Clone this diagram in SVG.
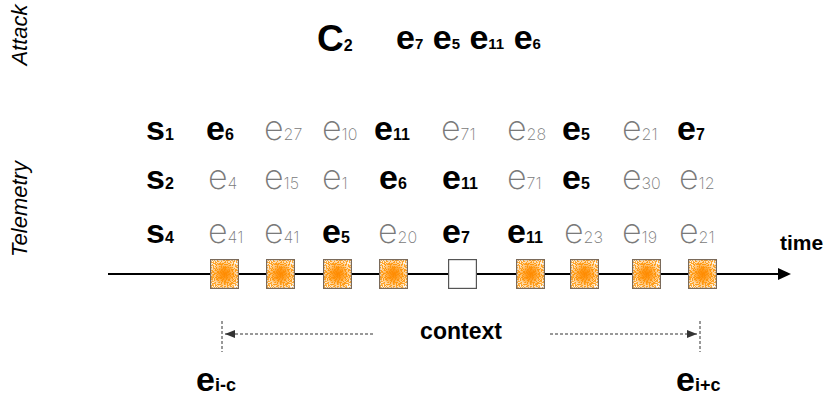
<svg xmlns="http://www.w3.org/2000/svg" xmlns:xlink="http://www.w3.org/1999/xlink" width="830" height="405" viewBox="0 0 830 405">
<style>
.b{font-family:"Liberation Sans",Arial,sans-serif;font-weight:bold;fill:#000}
.l{font-family:"Inter","Liberation Sans",sans-serif;font-weight:200;fill:#7a7a7a}
.e{font-size:34px}
.s{font-size:16px}
.lab{font-family:"Liberation Sans",Arial,sans-serif;font-style:italic;font-size:22px;fill:#000}
.line{stroke:#000;stroke-width:2.2;fill:none}
.dash{stroke:#333;stroke-width:1;stroke-dasharray:3 2;fill:none}
</style>
<defs>
<radialGradient id="rg" cx="0.5" cy="0.5" r="0.6">
<stop offset="0" stop-color="#ff8a00"/>
<stop offset="0.55" stop-color="#ff9810"/>
<stop offset="1" stop-color="#ffae3c"/>
</radialGradient>
<radialGradient id="mg" cx="0.5" cy="0.5" r="0.6">
<stop offset="0" stop-color="#000"/>
<stop offset="0.3" stop-color="#222"/>
<stop offset="1" stop-color="#fff"/>
</radialGradient>
<mask id="m" maskContentUnits="objectBoundingBox"><rect width="1" height="1" fill="url(#mg)"/></mask>
<filter id="sp" x="0" y="0" width="1" height="1">
<feTurbulence type="fractalNoise" baseFrequency="0.9" numOctaves="2" seed="4" result="n"/>
<feColorMatrix in="n" type="matrix" values="0 0 0 0 1 0 0 0 0 1 0 0 0 0 1 14 0 0 0 -6.5" result="t"/>
<feComposite in="t" in2="SourceGraphic" operator="in"/>
</filter>
<g id="ob">
<rect x="0" y="0" width="29" height="30" fill="url(#rg)"/>
<rect x="0" y="0" width="29" height="30" fill="#fff" filter="url(#sp)" mask="url(#m)"/>
<rect x="0.6" y="0.6" width="27.8" height="28.8" fill="none" stroke="#7a6a5a" stroke-width="1.2"/>
</g>
<marker id="ah" viewBox="0 0 10 10" refX="10" refY="5" markerWidth="10" markerHeight="10" markerUnits="userSpaceOnUse" orient="auto">
<path d="M0,1 L10,5 L0,9 z" fill="#333"/>
</marker>
</defs>

<g id="labels">
<text class="lab" transform="translate(27,35) rotate(-90)" text-anchor="middle">Attack</text>
<text class="lab" transform="translate(27,209) rotate(-90)" text-anchor="middle">Telemetry</text>
</g>

<g id="attack">
<text class="b" x="317" y="51" style="font-size:37px">C<tspan class="s">2</tspan></text>
<text class="b" x="396" y="49" style="font-size:34px">e<tspan style="font-size:15px">7</tspan> e<tspan style="font-size:15px">5</tspan> e<tspan style="font-size:15px">11</tspan> e<tspan style="font-size:15px">6</tspan></text>
</g>

<g id="row-s1">
<text class="b e" x="146" y="140">s<tspan class="s">1</tspan></text>
<text class="b e" x="206" y="140">e<tspan class="s">6</tspan></text>
<text class="l e" x="264" y="140">e<tspan class="s">27</tspan></text>
<text class="l e" x="322" y="140">e<tspan class="s">10</tspan></text>
<text class="b e" x="374" y="140">e<tspan class="s">11</tspan></text>
<text class="l e" x="441" y="140">e<tspan class="s">71</tspan></text>
<text class="l e" x="507" y="140">e<tspan class="s">28</tspan></text>
<text class="b e" x="562" y="140">e<tspan class="s">5</tspan></text>
<text class="l e" x="622" y="140">e<tspan class="s">21</tspan></text>
<text class="b e" x="677" y="140">e<tspan class="s">7</tspan></text>
</g>

<g id="row-s2">
<text class="b e" x="146" y="189">s<tspan class="s">2</tspan></text>
<text class="l e" x="208" y="189">e<tspan class="s">4</tspan></text>
<text class="l e" x="264" y="189">e<tspan class="s">15</tspan></text>
<text class="l e" x="322" y="189">e<tspan class="s">1</tspan></text>
<text class="b e" x="379" y="189">e<tspan class="s">6</tspan></text>
<text class="b e" x="442" y="189">e<tspan class="s">11</tspan></text>
<text class="l e" x="507" y="189">e<tspan class="s">71</tspan></text>
<text class="b e" x="562" y="189">e<tspan class="s">5</tspan></text>
<text class="l e" x="622" y="189">e<tspan class="s">30</tspan></text>
<text class="l e" x="679" y="189">e<tspan class="s">12</tspan></text>
</g>

<g id="row-s4">
<text class="b e" x="146" y="243">s<tspan class="s">4</tspan></text>
<text class="l e" x="208" y="243">e<tspan class="s">41</tspan></text>
<text class="l e" x="264" y="243">e<tspan class="s">41</tspan></text>
<text class="b e" x="322" y="243">e<tspan class="s">5</tspan></text>
<text class="l e" x="378" y="243">e<tspan class="s">20</tspan></text>
<text class="b e" x="442" y="243">e<tspan class="s">7</tspan></text>
<text class="b e" x="507" y="243">e<tspan class="s">11</tspan></text>
<text class="l e" x="564" y="243">e<tspan class="s">23</tspan></text>
<text class="l e" x="622" y="243">e<tspan class="s">19</tspan></text>
<text class="l e" x="679" y="243">e<tspan class="s">21</tspan></text>
</g>

<g id="connectors">
<line class="line" x1="108" y1="274" x2="780" y2="274"/>
<path d="M778,268 L791,274 L778,280 z" fill="#000"/>
<line class="dash" x1="222" y1="321" x2="222" y2="352"/>
<line class="dash" x1="700" y1="321" x2="700" y2="352"/>
<line class="dash" x1="373" y1="334" x2="225" y2="334" marker-end="url(#ah)"/>
<line class="dash" x1="550" y1="334" x2="697" y2="334" marker-end="url(#ah)"/>
</g>

<g id="timeline">
<use xlink:href="#ob" x="210" y="259"/>
<use xlink:href="#ob" x="266" y="259"/>
<use xlink:href="#ob" x="323" y="259"/>
<use xlink:href="#ob" x="379" y="259"/>
<rect id="current" x="448.6" y="259.6" width="27.8" height="28.8" fill="#fff" stroke="#555" stroke-width="1.2"/>
<use xlink:href="#ob" x="516" y="259"/>
<use xlink:href="#ob" x="570" y="259"/>
<use xlink:href="#ob" x="632" y="259"/>
<use xlink:href="#ob" x="688" y="259"/>
</g>

<g id="texts">
<text class="b" x="780" y="250" style="font-size:21px">time</text>
<text class="b" x="461" y="339" text-anchor="middle" style="font-size:23px">context</text>
<text class="b" x="196" y="391" style="font-size:34px">e<tspan style="font-size:18px">i-c</tspan></text>
<text class="b" x="676" y="391" style="font-size:34px">e<tspan style="font-size:18px">i+c</tspan></text>
</g>
</svg>
